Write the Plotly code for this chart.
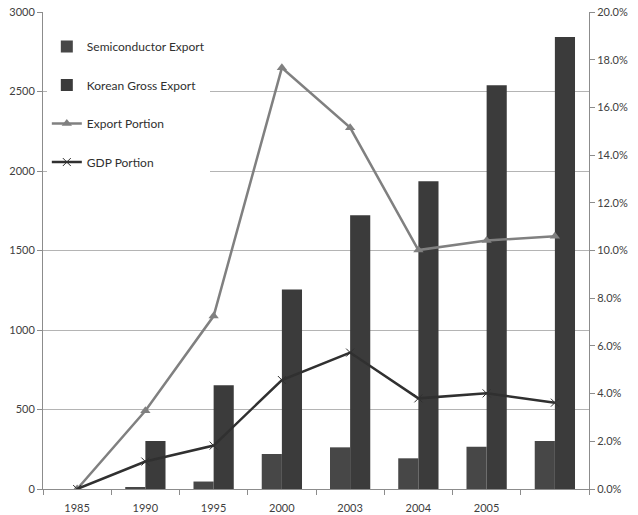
import plotly.graph_objects as go

categories = ["1985", "1990", "1995", "2000", "2003", "2004", "2005", ""]
semiconductor_export = [0, 10, 47, 220, 262, 193, 266, 302]
korean_gross_export = [0, 302, 652, 1255, 1722, 1936, 2540, 2843]
export_portion = [0.0, 0.0328, 0.0725, 0.1766, 0.1515, 0.1002, 0.1042, 0.1060]
gdp_portion = [0.0, 0.0115, 0.0182, 0.0457, 0.0572, 0.0380, 0.0401, 0.0362]

xs = list(range(len(categories)))
font_family = "Lato, 'Open Sans', sans-serif"

fig = go.Figure()
fig.add_trace(go.Bar(x=xs, y=semiconductor_export, name="Semiconductor Export",
                     marker=dict(color="#474747", line=dict(width=0)),
                     legendgroup="a"))
fig.add_trace(go.Bar(x=xs, y=korean_gross_export, name="Korean Gross Export",
                     marker=dict(color="#3b3b3b", line=dict(width=0)),
                     legendgroup="b"))
fig.add_trace(go.Scatter(x=xs, y=export_portion, name="Export Portion", yaxis="y2",
                         mode="lines+markers",
                         line=dict(color="#808080", width=2.5),
                         marker=dict(symbol="triangle-up", size=9, color="#808080"),
                         legendgroup="c"))
fig.add_trace(go.Scatter(x=xs, y=gdp_portion, name="GDP Portion", yaxis="y2",
                         mode="lines+markers",
                         line=dict(color="#303030", width=2.5),
                         marker=dict(symbol="x-thin", size=8,
                                     line=dict(color="#303030", width=1)),
                         legendgroup="d"))

fig.update_layout(
    width=638, height=515,
    margin=dict(l=43, r=49, t=12, b=26),
    paper_bgcolor="white", plot_bgcolor="white",
    font=dict(family=font_family, size=11, color="#404040"),
    barmode="group", bargap=0.41, bargroupgap=0,
    showlegend=True,
    legend=dict(x=0.007, y=0.958, xanchor="left", yanchor="top",
                bgcolor="white", borderwidth=0, itemwidth=30,
                font=dict(size=12, color="#303030"),
                traceorder="grouped", tracegroupgap=19.5),
    xaxis=dict(range=[-0.5, 7.5], tickmode="array", tickvals=xs, ticktext=categories,
               ticks="", showgrid=False, zeroline=False, ticklabelstandoff=9,
               automargin=False,
               showline=True, linecolor="#8c8c8c", linewidth=1,
               minor=dict(tickvals=[i - 0.5 for i in range(9)], ticks="outside",
                          ticklen=5, tickcolor="#8c8c8c", showgrid=False),
               tickfont=dict(size=11, color="#404040")),
    yaxis=dict(range=[0, 3000], dtick=500, tick0=0, automargin=False,
               showgrid=True, gridcolor="#b4b4b4", gridwidth=1,
               zeroline=False, showline=True, linecolor="#8c8c8c", linewidth=1,
               ticks="outside", ticklen=5, tickcolor="#8c8c8c",
               tickfont=dict(size=11, color="#404040")),
    yaxis2=dict(range=[0, 0.2], dtick=0.02, tick0=0, tickformat=".1%",
                overlaying="y", side="right", showgrid=False, zeroline=False,
                automargin=False,
                showline=True, linecolor="#8c8c8c", linewidth=1,
                ticks="outside", ticklen=5, tickcolor="#8c8c8c",
                tickfont=dict(size=11, color="#404040")),
)

fig.write_html("out.html")
